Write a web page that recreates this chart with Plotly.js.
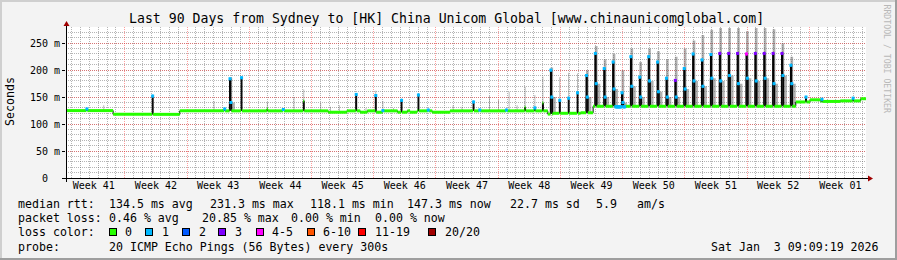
<!DOCTYPE html>
<html><head><meta charset="utf-8">
<script src="https://cdn.plot.ly/plotly-3.0.1.min.js"></script>
<style>html,body{margin:0;padding:0;background:#f3f3f3;}#chart{width:897px;height:260px;}</style>
</head><body><div id="chart"></div>
<script>
// ---------------- data ----------------
const startTime = '2025-10-05T09:09:19Z';   // 90 days ending Sat Jan 3 09:09:19 2026
const spanDays = 90;
const chartTitle = 'Last 90 Days from Sydney to [HK] China Unicom Global [www.chinaunicomglobal.com]';
const weekLabels = ['Week 41','Week 42','Week 43','Week 44','Week 45','Week 46','Week 47','Week 48','Week 49','Week 50','Week 51','Week 52','Week 01'];
const yTickVals = [0, 50, 100, 150, 200, 250];
const yTickText = ['0  ', '50 m', '100 m', '150 m', '200 m', '250 m'];

// median baseline (day offset from start, ms, lost pings of 20)
const baseDay  = [0, 5.25, 12.75, 29.47, 31.6, 33.07, 33.86, 34.76, 35.55, 37.24, 38.36, 38.7, 39.49, 41.17, 43.2, 54.11, 54.79, 57.82, 59.29, 61.8, 62.9, 82.01, 83.7, 84.82, 87.07, 89.32];
const baseMs   = [125, 118, 124.5, 122, 124.5, 122, 124.5, 122, 124.5, 122, 124.5, 122, 124.5, 122, 124.5, 118.5, 120, 121, 133, 132, 133, 141, 145, 142, 143, 147];
const baseLoss = [0, 0, 0, 0, 0, 0, 0, 0, 0, 0, 0, 0, 0, 0, 0, 0, 0, 0, 0, 1, 0, 0, 0, 0, 0, 0];

// latency spikes: day offset, median at peak (null = smoke only), median on the way down,
// loss on the way down, top of the smoke, loss at the peak
const spikeDay = [2.25, 4.20, 9.67, 16.65, 17.77, 18.45, 19.69, 22.65, 24.4, 25.65, 26.70, 28.65, 29.70, 30.68, 32.62, 33.67, 34.76, 35.63, 36.82, 37.69, 39.63, 40.7, 43.5, 44.5, 45.82, 46.5, 47.59, 48.6, 49.5, 49.76, 50.7, 51.64, 52.65, 53.58,
  54.5, 55.5, 56.5, 57.5, 58.5, 59.5, 60.5, 61.5, 62.5, 63.5, 64.5, 65.5, 66.5, 67.5, 68.5, 69.5, 70.5, 71.5, 72.5, 73.5, 74.5, 75.5, 76.5, 77.5, 78.5, 79.5, 80.5, 81.5,
  83.2, 85.0, 88.5];
const spikeTop = [128, null, 152, null, 128, 184, 186, 128, 127, null, 143, null, null, null, 155, null, 153, 125, null, 144, 154, 126, null, null, 141, 126, null, null, 126, null, null, 131, 130, 139,
  200, 144, 148, 158, 190, 231, 203, 215, 158, 225, 187, 225, 215, 185, 181, 203, 230, 219, 229, 231, 231, 231, 230, 231, 231, 231, 231, 209,
  150, 146, 148];
const spikeFall = [null, null, null, null, null, 140, null, null, null, null, null, null, null, null, null, null, null, null, null, null, null, null, null, null, null, null, null, null, null, null, null, null, null, null,
  150, null, null, null, 150, 175, 150, 165, 140, 170, 150, 180, 160, 150, 150, 165, 180, 170, 185, 180, 190, 175, 185, 180, 185, 175, 190, 175,
  null, null, null];
const spikeFallLoss = [0, 0, 0, 0, 0, 1, 0, 0, 0, 0, 0, 0, 0, 0, 0, 0, 0, 0, 0, 0, 0, 0, 0, 0, 0, 0, 0, 0, 0, 0, 0, 0, 0, 0,
  1, 0, 0, 0, 1, 1, 1, 1, 1, 1, 1, 1, 1, 1, 1, 1, 1, 1, 1, 1, 1, 1, 1, 1, 1, 1, 1, 1,
  0, 0, 0];
const spikeSmoke = [128, 135, 152, 143, 128, 186, 188, 141, 127, 150, 164, 139, 132, 135, 155, 130, 162, 143, 130, 147, 154, 126, 135, 132, 141, 126, 152, 145, 126, 160, 135, 169, 154, 188,
  205, 187, 195, 194, 200, 245, 220, 230, 200, 240, 215, 240, 235, 220, 225, 240, 255, 265, 275, 278, 278, 278, 272, 278, 278, 276, 250, 225,
  152, 148, 150];
const spikeLoss = [1, 0, 1, 0, 1, 1, 1, 0, 1, 0, 0, 0, 0, 0, 1, 0, 1, 1, 0, 1, 1, 1, 0, 0, 1, 1, 0, 0, 1, 0, 0, 0, 1, 0,
  1, 1, 1, 1, 1, 1, 1, 1, 1, 1, 1, 1, 1, 1, 3, 1, 1, 1, 1, 3, 3, 3, 4, 3, 3, 3, 3, 1,
  1, 1, 1];

// legend
const lossLabels = ['0', '1', '2', '3', '4-5', '6-10', '11-19', '20/20'];
const lossColors = ['#26ff00', '#00b8ff', '#0059ff', '#7e00ff', '#ff00ff', '#ff5500', '#ff0000', '#a10000'];
const rttStats  = ['134.5 ms avg', '231.3 ms max', '118.1 ms min', '147.3 ms now', '22.7 ms sd', '5.9', 'am/s'];
const lossStats = ['0.46 % avg', '20.85 % max', '0.00 % min', '0.00 % now'];
const probeText = '20 ICMP Echo Pings (56 Bytes) every 300s';
const stampText = 'Sat Jan  3 09:09:19 2026';

// ---------------- build series ----------------
const W = 897, H = 260, DAY = 864e5;
const mono = 'DejaVu Sans Mono, monospace';
const t0 = Date.parse(startTime);
const slot = 0.1;
const n = Math.round(spanDays / slot);
const base = [], med = [], loss = [], dark = [], smoke = [];
for (let i = 0; i <= n; i++) {
  const d = i * slot + 1e-9;
  let k = 0;
  while (k + 1 < baseDay.length && baseDay[k + 1] <= d) k++;
  base.push(baseMs[k]); med.push(baseMs[k]); loss.push(baseLoss[k]); dark.push(baseMs[k]); smoke.push(baseMs[k]);
}
const raise = (arr, i, v) => { if (i >= 0 && i <= n) arr[i] = Math.max(arr[i], v); };
spikeDay.forEach((s, j) => {
  const i = Math.round(s / slot);
  if (spikeTop[j] !== null) { med[i] = spikeTop[j]; loss[i] = spikeLoss[j]; raise(dark, i, spikeTop[j]); }
  raise(smoke, i, spikeSmoke[j]);
  const f = spikeFall[j];
  if (f !== null) {
    med[i + 1] = f; loss[i + 1] = spikeFallLoss[j];
    raise(dark, i + 1, spikeTop[j]); raise(dark, i + 2, f);
    raise(smoke, i - 1, f);
    [1, 2].forEach(o => raise(smoke, i + o, spikeSmoke[j]));
    [3, 4, 5].forEach(o => raise(smoke, i + o, f));
  }
});
const xs = med.map((_, i) => t0 + i * slot * DAY);
const xEnd = t0 + (n + 1) * slot * DAY;
function lossClass(l) { return l <= 3 ? l : l <= 5 ? 4 : l <= 10 ? 5 : l <= 19 ? 6 : 7; }

const traces = [];
const stepLine = { width: 0, shape: 'hv' };
traces.push({ x: xs, y: base, mode: 'lines', line: stepLine, hoverinfo: 'skip' });
traces.push({ x: xs, y: smoke, mode: 'lines', line: stepLine, fill: 'tonexty', fillcolor: 'rgba(100,100,100,0.5)', hoverinfo: 'skip' });
traces.push({ x: xs, y: base, mode: 'lines', line: stepLine, hoverinfo: 'skip' });
traces.push({ x: xs, y: dark, mode: 'lines', line: stepLine, fill: 'tonexty', fillcolor: '#222222', hoverinfo: 'skip' });
traces.push({ x: xs, y: med, mode: 'lines', line: { color: '#000', width: 1, shape: 'hv' } });
// loss-coloured median: flat runs only (one segment per run of equal value and class)
lossColors.forEach((c, ci) => {
  const sx = [], sy = [], mx = [], my = [];
  let i = 0;
  while (i <= n) {
    if (lossClass(loss[i]) !== ci) { i++; continue; }
    let j = i;
    while (j + 1 <= n && lossClass(loss[j + 1]) === ci && med[j + 1] === med[i]) j++;
    sx.push(xs[i], j + 1 <= n ? xs[j + 1] : xEnd, null);
    sy.push(med[i], med[i], null);
    if (ci > 0) for (let k = i; k <= j; k++) { mx.push(xs[k] + slot * DAY / 2); my.push(med[k]); }
    i = j + 1;
  }
  if (!sx.length) return;
  traces.push({ x: sx, y: sy, mode: 'lines', line: { color: c, width: 3 }, connectgaps: false, hoverinfo: 'skip' });
  if (mx.length) traces.push({ x: mx, y: my, mode: 'markers', marker: { color: c, size: 3, symbol: 'square', line: { width: 0 } }, hoverinfo: 'skip' });
});
// invisible trace for the week label axis
const weekMid = weekLabels.map((_, k) => Date.parse('2025-10-08T12:00:00Z') + k * 7 * DAY);
traces.push({ x: weekMid, y: weekMid.map(() => null), xaxis: 'x2', yaxis: 'y', mode: 'markers', hoverinfo: 'skip' });
traces.forEach(t => t.showlegend = false);

// ---------------- layout ----------------
const px = v => v / W, py = v => 1 - v / H;
const xRange = [t0, t0 + spanDays * DAY];
const annotations = [];
function txt(text, x, y, opts) {
  annotations.push(Object.assign({ text: text.replace(/ /g, '\u00a0'), x: px(x), y: py(y), xref: 'paper', yref: 'paper',
    showarrow: false, xanchor: 'left', yanchor: 'middle', font: { family: mono, size: 11.6, color: '#000' } }, opts || {}));
}
txt(chartTitle, 446.7, 18.5, { xanchor: 'center', font: { family: mono, size: 13.2, color: '#000' } });
txt('Seconds', 10, 102, { xanchor: 'center', textangle: -90 });
txt('RRDTOOL / TOBI OETIKER', 886.5, 59, { xanchor: 'center', textangle: 90, font: { family: mono, size: 8.2, color: '#b8b8b8' } });
// legend rows
const row = [204, 218.3, 231.7, 246.7];
txt('median rtt:', 16, row[0]);
[107.3, 207.7, 307.7, 405, 507.7, 594, 635].forEach((x, i) => txt(rttStats[i], x, row[0]));
txt('packet loss:', 16, row[1]);
[107.3, 200, 289, 372.7].forEach((x, i) => txt(lossStats[i], x, row[1]));
txt('loss color:', 16, row[2]);
const boxX = [112.5, 149.2, 186.3, 222.3, 259.5, 310.5, 362, 432];
lossLabels.forEach((lab, i) => {
  annotations.push({ text: ' ', x: px(boxX[i]), y: py(row[2]), xref: 'paper', yref: 'paper', showarrow: false,
    xanchor: 'center', yanchor: 'middle', width: 6, height: 6, bgcolor: lossColors[i], bordercolor: '#000', borderwidth: 1, borderpad: 0,
    font: { size: 1 } });
  txt(lab, boxX[i] + 10.8, row[2]);
});
txt('probe:', 16, row[3]);
txt(probeText, 107.3, row[3]);
txt(stampText, 880.7, row[3], { xanchor: 'right' });

const shapes = [
  // frame
  { type: 'rect', xref: 'paper', yref: 'paper', x0: 0, x1: 1, y0: py(2), y1: 1, fillcolor: '#cfcfcf', line: { width: 0 } },
  { type: 'rect', xref: 'paper', yref: 'paper', x0: 0, x1: px(2), y0: 0, y1: 1, fillcolor: '#cfcfcf', line: { width: 0 } },
  { type: 'rect', xref: 'paper', yref: 'paper', x0: px(W - 2), x1: 1, y0: 0, y1: 1, fillcolor: '#9e9e9e', line: { width: 0 } },
  { type: 'rect', xref: 'paper', yref: 'paper', x0: 0, x1: 1, y0: 0, y1: py(H - 2), fillcolor: '#9e9e9e', line: { width: 0 } },
  // axis lines and arrows
  { type: 'line', xref: 'paper', yref: 'paper', x0: px(62), x1: px(869), y0: py(178.5), y1: py(178.5), line: { color: '#000', width: 1 } },
  { type: 'line', xref: 'paper', yref: 'paper', x0: px(66.5), x1: px(66.5), y0: py(182), y1: py(25), line: { color: '#000', width: 1 } },
  { type: 'path', xref: 'paper', yref: 'paper', path: `M ${px(63.5)} ${py(26)} L ${px(69.5)} ${py(26)} L ${px(66.5)} ${py(21)} Z`, fillcolor: '#a00000', line: { width: 0 } },
  { type: 'path', xref: 'paper', yref: 'paper', path: `M ${px(868)} ${py(175.5)} L ${px(868)} ${py(181.5)} L ${px(873)} ${py(178.5)} Z`, fillcolor: '#a00000', line: { width: 0 } }
];

const layout = {
  width: W, height: H, margin: { l: 0, r: 0, t: 0, b: 0 },
  paper_bgcolor: '#f3f3f3', plot_bgcolor: '#ffffff', showlegend: false,
  xaxis: { type: 'date', domain: [px(66), px(866)], range: xRange, fixedrange: true,
    tickmode: 'linear', tick0: '2025-10-05', dtick: 7 * DAY, showticklabels: false, ticks: '',
    showgrid: true, gridcolor: 'rgba(255,40,40,0.45)', griddash: '1px,1px', gridwidth: 1,
    minor: { tick0: '2025-10-05', dtick: DAY, showgrid: true, gridcolor: 'rgba(90,90,90,0.45)', griddash: '1px,1px', ticks: '' },
    showline: false, zeroline: false },
  xaxis2: { type: 'date', overlaying: 'x', anchor: 'y', side: 'bottom', range: xRange, fixedrange: true,
    tickmode: 'array', tickvals: weekMid, ticktext: weekLabels, showgrid: false, ticks: '', showline: false, zeroline: false,
    tickfont: { family: mono, size: 10, color: '#000' } },
  yaxis: { domain: [py(178), py(27)], range: [0, 280], fixedrange: true,
    tickmode: 'array', tickvals: yTickVals, ticktext: yTickText.map(s => s.replace(/ /g, '\u00a0')),
    ticks: 'outside', ticklen: 3, tickcolor: '#000', tickfont: { family: mono, size: 10, color: '#000' },
    showgrid: true, gridcolor: 'rgba(255,40,40,0.45)', griddash: '1px,1px',
    minor: { dtick: 10, tick0: 0, showgrid: true, gridcolor: 'rgba(90,90,90,0.45)', griddash: '1px,1px', ticks: '' },
    showline: false, zeroline: false },
  annotations: annotations, shapes: shapes
};
Plotly.newPlot('chart', traces, layout, { staticPlot: true, displayModeBar: false });
</script></body></html>
